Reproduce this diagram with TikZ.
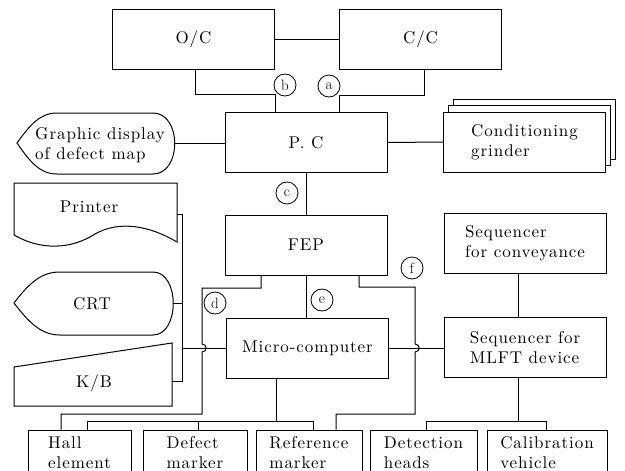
\documentclass[tikz,border=0pt]{standalone}
\usepackage{fontspec}
\newfontfamily\spfont{lmroman10-regular.otf}[LetterSpace=5.5]
\newcommand{\txtf}{\spfont\fontsize{17}{20}\selectfont}
\newcommand{\circf}{\fontsize{15}{16}\selectfont}
\tikzset{
  box/.style={draw, line width=1pt, minimum width=162pt, minimum height=60pt, inner sep=0pt, font=\txtf, align=left},
  bbox/.style={draw, line width=1pt, minimum height=46pt, inner sep=0pt, font=\txtf, align=left},
  lett/.style={draw, circle, line width=0.8pt, minimum size=22pt, inner sep=0pt, font=\circf},
  txt/.style={inner sep=0pt, font=\txtf, align=left},
}
\begin{document}
\begin{tikzpicture}[x=1pt,y=-1pt,line width=1pt]
\useasboundingbox (0,0) rectangle (625,471);
\clip (0,0) rectangle (625,471);

% top boxes
\node[box] (oc) at (193.5,39.5) {O/C};
\node[box] (cc) at (420.5,39.5) {C/C};
\node[box] (pc) at (306,142.5) {P. C};
\node[box,fill=white] (g3) at (534.5,129) {};
\node[box,fill=white] (g2) at (529.5,135.5) {};
\node[box,fill=white] (grinder) at (524.5,142) {Conditioning\\grinder};

\draw (oc.east) -- (cc.west);
\draw ([xshift=2pt]oc.south) |- ([xshift=-31pt,yshift=18pt]pc.north) -- ([xshift=-31pt]pc.north);
\draw ([xshift=3.5pt]cc.south) |- ([xshift=33pt,yshift=17pt]pc.north) -- ([xshift=33pt]pc.north);
\node[lett] (b) at (285,85) {b};
\node[lett] (a) at (329,86) {a};

% graphic display
\draw (17,143) .. controls (30,125) and (40,113) .. (57,113) -- (153,113)
  .. controls (182,113) and (182,174) .. (153,174) -- (57,174)
  .. controls (40,174) and (30,162) .. (17,143) -- cycle;
\node[txt] (gd) at (100,145) {Graphic display\\of defect map};
\coordinate (gdE) at (175,143.5);
\draw (gdE) -- (gdE -| pc.west);
\draw (pc.east) -- (grinder.west);

% FEP / micro
\node[box] (fep) at (306,245) {FEP};
\node[box] (mc) at (307.5,348) {Micro-computer};
\draw (pc.south) -- (fep.north);
\node[lett] (c) at (287,193) {c};
\draw (fep.south) -- (fep.south |- mc.north);
\node[lett] (e) at (322,300) {e};

% sequencers
\node[box] (seqc) at (525,243) {Sequencer\\for conveyance};
\node[box] (seqm) at (525,347.5) {Sequencer for\\MLFT device};
\draw ([xshift=-7pt]seqc.south) -- ([xshift=-7pt]seqm.north);

% printer, CRT, K/B
\draw (14,183) -- (177,183) -- (177,242)
  .. controls (150,226) and (120,220) .. (95,234)
  .. controls (70,250) and (40,250) .. (14,235) -- cycle;
\node[txt] (prn) at (89,207) {Printer};
\draw (14,303) .. controls (30,282) and (42,272) .. (60,272) -- (153,272)
  .. controls (180,272) and (180,335) .. (153,335) -- (60,335)
  .. controls (42,335) and (30,324) .. (14,303) -- cycle;
\node[txt] (crt) at (92,304) {CRT};
\draw (14,367) -- (172,343) -- (172,406) -- (14,406) -- cycle;
\node[txt] (kb) at (94,383) {K/B};

\coordinate (prE) at (177,214);
\coordinate (crE) at (173,303);
\coordinate (kbE) at (172,381);
\coordinate (bt) at (182,214);
\coordinate (bb) at (182,381);
\coordinate (bus1) at (182,348);
\draw (prE) -- (bt) -- (bb) -- (kbE);
\draw (crE) -- (crE -| bt);
\draw (bus1) -- (bus1 -| mc.west);
\draw (mc.east) -- (mc.east -| seqm.west);

% bottom boxes
\node[bbox, minimum width=103pt] (hall) at (79.5,453) {Hall\\element};
\node[bbox, minimum width=104pt] (def) at (195,453) {Defect\\marker};
\node[bbox, minimum width=106pt] (ref) at (309,453) {Reference\\marker};
\node[bbox, minimum width=107pt] (det) at (423.5,453) {Detection\\heads};
\node[bbox, minimum width=120pt] (cal) at (547,453) {Calibration\\vehicle};

% d line
\coordinate (d1) at (202,288);
\coordinate (dh1) at (202,344);
\coordinate (dh2) at (202,352);
\coordinate (d2) at (202,414);
\draw ([xshift=-45pt]fep.south) |- (d1) -- (dh1) .. controls +(5.5,0) and +(5.5,0) .. (dh2) -- (d2) -| ([xshift=-18.5pt]hall.north);
\node[lett] (d) at (215,303) {d};

% f line
\coordinate (f1) at (415,287);
\coordinate (fh1) at (415,344);
\coordinate (fh2) at (415,352);
\coordinate (f2) at (415,414);
\draw ([xshift=53pt]fep.south) |- (f1) -- (fh1) .. controls +(5.5,0) and +(5.5,0) .. (fh2) -- (f2) -| ([xshift=27pt]ref.north);
\node[lett] (f) at (412,268) {f};

% micro to bottom
\draw ([xshift=-31.5pt]mc.south) -- ([xshift=-31.5pt,yshift=8pt]mc.south |- ref.north);
\draw ([xshift=7.5pt]hall.north) -- ++(0,-8) -| ([xshift=4pt]ref.north);
\draw ([xshift=3pt]def.north) -- ++(0,-8);

% MLFT to bottom
\draw ([xshift=-7pt]seqm.south) -- ([xshift=-7pt,yshift=8pt]seqm.south |- det.north);
\draw ([xshift=2.5pt]det.north) -- ++(0,-8) -| ([xshift=-1pt]cal.north);
\end{tikzpicture}
\end{document}
